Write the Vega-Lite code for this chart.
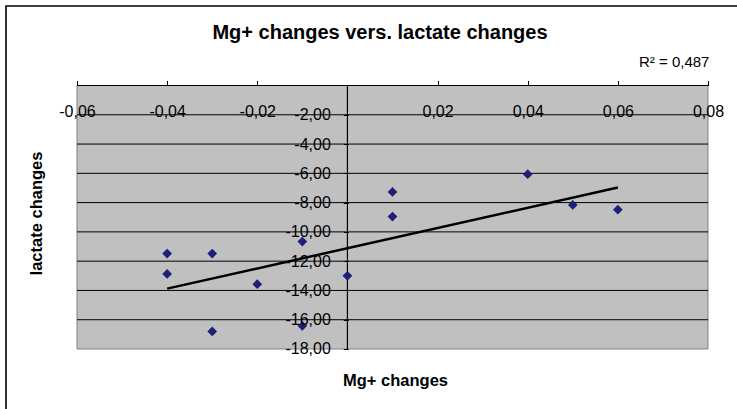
{
  "$schema": "https://vega.github.io/schema/vega-lite/v6.json",
  "width": 740,
  "height": 410,
  "autosize": {"type": "none"},
  "padding": {"left": 6, "top": 6, "right": 0, "bottom": 0},
  "background": "white",
  "title": {"text": "Mg+ changes vers. lactate changes", "font": "Liberation Sans", "fontSize": 20, "fontWeight": "bold", "color": "black", "anchor": "middle", "dx": 4, "offset": -37},
  "config": {
    "locale": {"number": {"decimal": ",", "thousands": ".", "grouping": [3], "currency": ["", ""], "minus": "-"}},
    "view": {"stroke": "black", "strokeWidth": 1.6, "fill": "white"},
    "axis": {"grid": false, "domain": false, "labelFont": "Liberation Sans", "labelFontSize": 16, "labelColor": "black", "tickColor": "black", "titleFont": "Liberation Sans", "titleFontWeight": "bold", "titleColor": "black"},
    "text": {"font": "Liberation Sans"}
  },
  "layer": [
    {
      "data": {"values": [{"area": "plot"}]},
      "mark": {"type": "rect", "fill": "#c0c0c0", "stroke": "#808080", "strokeWidth": 1},
      "encoding": {
        "x": {
          "datum": -0.06, "type": "quantitative",
          "scale": {"domain": [-0.075753, 0.088433], "nice": false, "zero": false},
          "axis": {
            "zindex": 1, "orient": "top", "offset": -79.5, "values": [-0.06, -0.04, -0.02, 0.02, 0.04, 0.06, 0.08],
            "format": ".2f", "tickSize": 5, "labelBaseline": "top", "labelPadding": -22.5, "labelFlush": false, "labelOverlap": false,
            "title": "Mg+ changes", "titleFontSize": 16.5, "titleX": 389, "titleY": 295, "titleBaseline": "middle", "titleAlign": "center"
          }
        },
        "x2": {"datum": 0.08},
        "y": {
          "datum": 0, "type": "quantitative",
          "scale": {"domain": [-22.577, 5.4307], "nice": false, "zero": false},
          "axis": {
            "zindex": 1, "orient": "left", "offset": -342.3, "values": [-2, -4, -6, -8, -10, -12, -14, -16, -18],
            "format": ".2f", "tickSize": 5, "labelPadding": 13, "labelFlush": false, "labelOverlap": false,
            "title": "lactate changes", "titleFontSize": 16.5, "titleX": -312, "titleY": 207, "titleBaseline": "middle", "titleAlign": "center", "titleAngle": -90
          }
        },
        "y2": {"datum": -18}
      }
    },
    {
      "data": {"values": [{"g": -2}, {"g": -4}, {"g": -6}, {"g": -8}, {"g": -10}, {"g": -12}, {"g": -14}, {"g": -16}]},
      "mark": {"type": "rule", "color": "black", "strokeWidth": 1},
      "encoding": {
        "x": {"datum": -0.06, "type": "quantitative"},
        "x2": {"datum": 0.08},
        "y": {"field": "g", "type": "quantitative"}
      }
    },
    {
      "data": {"values": [{"area": "axes"}]},
      "mark": {"type": "rule", "color": "black", "strokeWidth": 1.2},
      "encoding": {
        "x": {"datum": -0.06, "type": "quantitative"},
        "x2": {"datum": 0.08},
        "y": {"datum": 0, "type": "quantitative"}
      }
    },
    {
      "data": {"values": [{"area": "axes"}]},
      "mark": {"type": "rule", "color": "black", "strokeWidth": 1.2},
      "encoding": {
        "x": {"datum": 0, "type": "quantitative"},
        "y": {"datum": 0, "type": "quantitative"},
        "y2": {"datum": -18}
      }
    },
    {
      "data": {"name": "pts", "values": [
        {"mg": -0.04, "lactate": -11.48},
        {"mg": -0.04, "lactate": -12.87},
        {"mg": -0.03, "lactate": -11.48},
        {"mg": -0.03, "lactate": -16.8},
        {"mg": -0.02, "lactate": -13.57},
        {"mg": -0.01, "lactate": -10.66},
        {"mg": -0.01, "lactate": -16.42},
        {"mg": 0.0, "lactate": -13.0},
        {"mg": 0.01, "lactate": -7.27},
        {"mg": 0.01, "lactate": -8.95},
        {"mg": 0.04, "lactate": -6.06},
        {"mg": 0.05, "lactate": -8.16},
        {"mg": 0.06, "lactate": -8.48}
      ]},
      "mark": {"type": "point", "shape": "diamond", "filled": true, "size": 95, "color": "#1f1f78", "opacity": 1},
      "encoding": {
        "x": {"field": "mg", "type": "quantitative"},
        "y": {"field": "lactate", "type": "quantitative"}
      }
    },
    {
      "data": {"name": "pts"},
      "transform": [{"regression": "lactate", "on": "mg"}],
      "mark": {"type": "line", "color": "black", "strokeWidth": 2.5},
      "encoding": {
        "x": {"field": "mg", "type": "quantitative"},
        "y": {"field": "lactate", "type": "quantitative"}
      }
    },
    {
      "data": {"values": [{"label": "R² = 0,487", "mg": 0.0725, "lactate": 1.6}]},
      "mark": {"type": "text", "fontSize": 15, "color": "black", "align": "center", "baseline": "middle"},
      "encoding": {
        "x": {"field": "mg", "type": "quantitative"},
        "y": {"field": "lactate", "type": "quantitative"},
        "text": {"field": "label"}
      }
    }
  ]
}
